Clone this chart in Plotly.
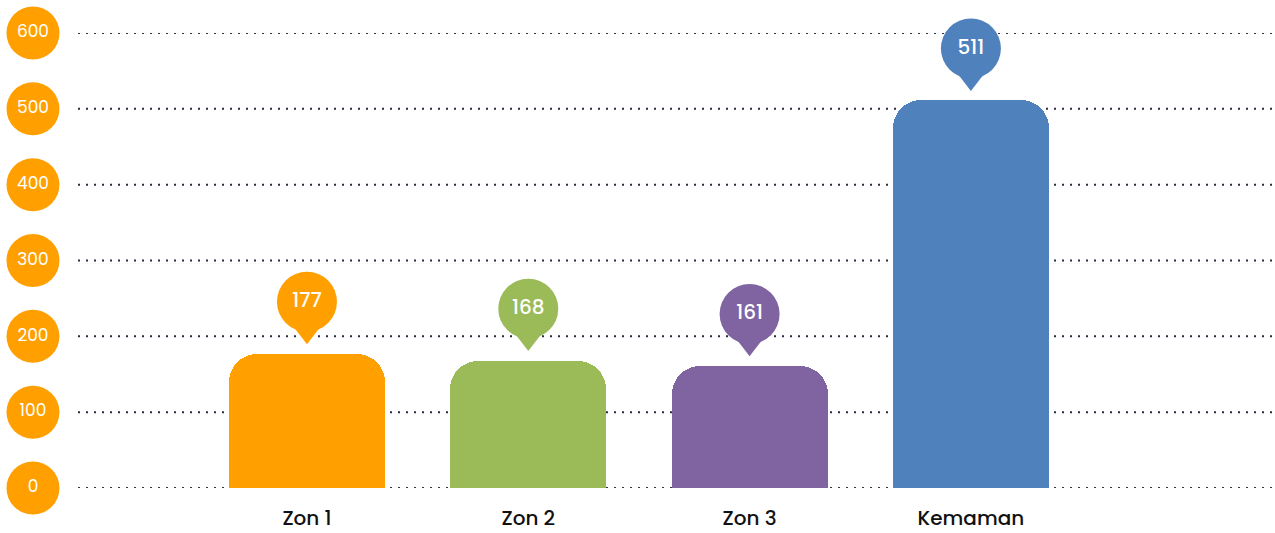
import plotly.graph_objects as go

categories = ["Zon 1", "Zon 2", "Zon 3", "Kemaman"]
values = [177, 168, 161, 511]
colors = ["#FF9F00", "#9BBB59", "#8064A2", "#4F81BD"]
tick_values = [0, 100, 200, 300, 400, 500, 600]
tick_labels = ["0", "100", "200", "300", "400", "500", "600"]

FONT = "Poppins, Inter, sans-serif"
xs = list(range(len(categories)))

fig = go.Figure()

fig.add_trace(go.Bar(
    x=xs, y=values, width=0.705,
    marker=dict(color=colors, line=dict(width=0), cornerradius=28),
    hoverinfo="skip", showlegend=False,
))

# callout pointers
fig.add_trace(go.Scatter(
    x=xs, y=[v + 26.5 for v in values], mode="markers",
    marker=dict(symbol="triangle-down", size=21, color=colors, line=dict(width=0)),
    cliponaxis=False, hoverinfo="skip", showlegend=False,
))
# callout bubbles
fig.add_trace(go.Scatter(
    x=xs, y=[v + 68.5 for v in values], mode="markers+text",
    marker=dict(symbol="circle", size=60, color=colors, line=dict(width=0)),
    text=[str(v) for v in values], textposition="middle center",
    textfont=dict(family=FONT, size=20, color="white", weight=500),
    cliponaxis=False, hoverinfo="skip", showlegend=False,
))

# y-axis labels in circles
fig.add_trace(go.Scatter(
    x=[-1.238] * len(tick_values), y=tick_values, mode="markers+text",
    marker=dict(symbol="circle", size=53, color="#FFA000", line=dict(width=0)),
    text=tick_labels, textposition="middle center",
    textfont=dict(family=FONT, size=17, color="white"),
    cliponaxis=False, hoverinfo="skip", showlegend=False,
))

for t in tick_values:
    fig.add_shape(type="line", xref="paper", yref="y",
                  x0=78 / 1275, x1=1.0, y0=t, y1=t, layer="below",
                  line=dict(color="#2B2D42", width=2, dash="2px,6px"))

fig.update_layout(
    width=1275, height=533,
    margin=dict(l=0, r=0, t=33, b=45, autoexpand=False),
    paper_bgcolor="white", plot_bgcolor="white",
    font=dict(family=FONT),
    xaxis=dict(range=[-1.387, 4.374], tickvals=xs, ticktext=categories,
               showgrid=False, zeroline=False, showline=False, ticks="",
               ticklabelstandoff=16, automargin=False,
               tickfont=dict(family=FONT, size=20, color="#111111", weight=500),
               fixedrange=True),
    yaxis=dict(range=[0, 600], showgrid=False, zeroline=False, showline=False,
               showticklabels=False, ticks="", fixedrange=True, automargin=False),
    bargap=0,
)

fig.write_html("out.html", config={"displayModeBar": False},
               post_script="document.body.style.margin='0';document.body.style.overflow='hidden';")
